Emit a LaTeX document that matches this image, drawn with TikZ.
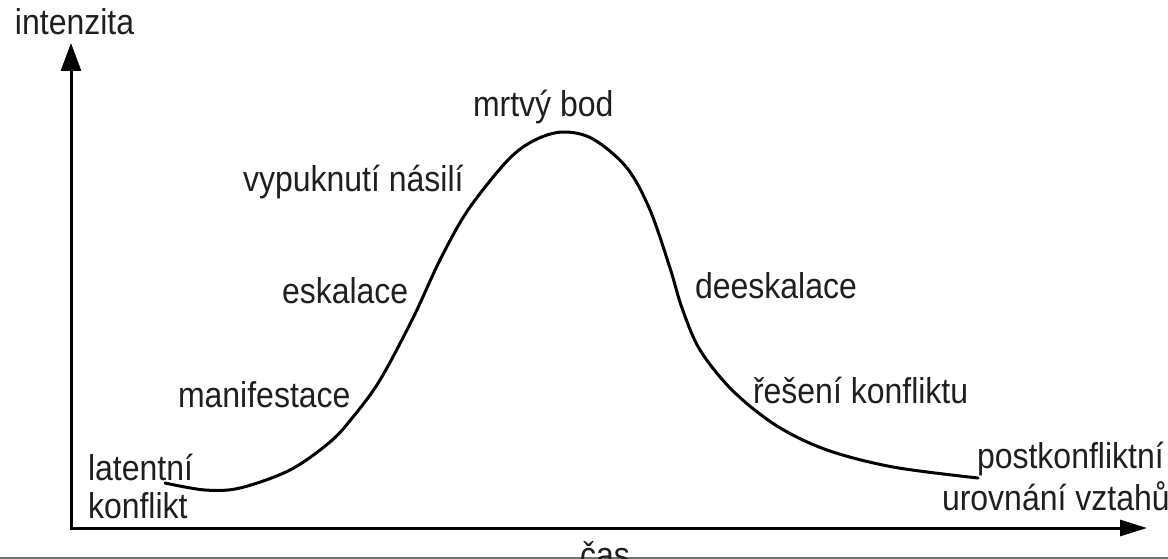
\documentclass[tikz,border=0pt]{standalone}
\usepackage{fontspec}
\usepackage{graphicx}
\setmainfont{Liberation Sans}
\usetikzlibrary{arrows.meta}
\newcommand{\stretchtxt}[1]{\scalebox{1}[1.12]{#1}}
\begin{document}
\begin{tikzpicture}[x=1pt,y=-1pt,
  lbl/.style={anchor=base west,inner sep=0pt,outer sep=0pt,text=black!88,font=\fontsize{32}{36}\selectfont},
  axisline/.style={line width=3pt,black},
  curveline/.style={line width=3pt,black,line join=round,line cap=round}]
\useasboundingbox (0,0) rectangle (1168,559);
% axes
\coordinate (origin) at (71,530);
\coordinate (ytip) at (71,43);
\coordinate (xstart) at (70,528);
\coordinate (xtip) at (1147,528);
\draw[axisline,-{Triangle[length=28pt,width=20pt]}] (origin) -- (ytip);
\draw[axisline,-{Triangle[length=27pt,width=16pt]}] (xstart) -- (xtip);
% scan border
\coordinate (bl) at (0,558);
\coordinate (br) at (1168,558);
\draw[black!55,line width=1.5pt] (bl) -- (br);
% curve
\draw[curveline] plot[smooth,tension=0.55] coordinates {
 (165,483) (205,490) (240,488) (290,470) (330,442) (353,417) (380,380)
 (413,318) (440,260) (468,210) (508,160) (535,140) (563,132) (593,139)
 (627,168) (650,210) (670,268) (682,308) (700,350) (733,391) (777,426)
 (827,450) (893,467) (978,478)};
% labels
\node[lbl] (intenzita) at (15,35) {\stretchtxt{intenzita}};
\node[lbl] (mrtvy) at (473,117) {\stretchtxt{mrtvý bod}};
\node[lbl] (vypuk) at (243,192) {\stretchtxt{vypuknutí násilí}};
\node[lbl] (eskal) at (282,303) {\stretchtxt{eskalace}};
\node[lbl] (deeskal) at (695,298) {\stretchtxt{deeskalace}};
\node[lbl] (manif) at (178,407) {\stretchtxt{manifestace}};
\node[lbl] (reseni) at (753,403) {\stretchtxt{řešení konfliktu}};
\node[lbl] (latent) at (88,480) {\stretchtxt{latentní}};
\node[lbl] (konfl) at (88,518) {\stretchtxt{konflikt}};
\node[lbl] (postk) at (977,468) {\stretchtxt{postkonfliktní}};
\node[lbl] (urovn) at (942,510) {\stretchtxt{urovnání vztahů}};
\node[lbl] (cas) at (580,567) {\stretchtxt{čas}};
\end{tikzpicture}
\end{document}
